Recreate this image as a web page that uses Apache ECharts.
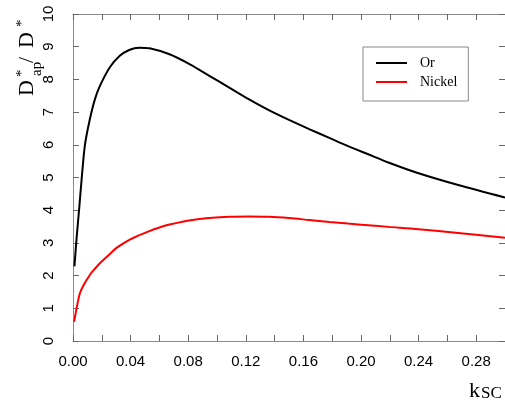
<!DOCTYPE html>
<html>
<head>
<meta charset="utf-8">
<script src="https://cdn.jsdelivr.net/npm/echarts@6/dist/echarts.min.js"></script>
<style>
html,body{margin:0;padding:0;background:#fff;}
#chart{width:505px;height:401px;}
</style>
</head>
<body>
<div id="chart"></div>
<script>
// ---- data ----
const xOr = [0.001,0.0026,0.0042,0.006,0.0083,0.0117,0.0152,0.0187,0.0256,0.0325,0.039,0.046,0.0532,0.067,0.0809,0.0947,0.1085,0.1223,0.136,0.15,0.164,0.178,0.191,0.205,0.219,0.24,0.2675,0.30];
const yOr = [2.28,3.2,4.0,4.95,6.0,6.78,7.39,7.8,8.37,8.72,8.9,8.97,8.95,8.77,8.47,8.11,7.75,7.39,7.06,6.76,6.48,6.21,5.96,5.71,5.46,5.13,4.77,4.39];
const xNi = [0.0008,0.0025,0.0048,0.0075,0.0117,0.014,0.0187,0.0256,0.030,0.037,0.0417,0.053,0.060,0.067,0.076,0.083,0.0947,0.1085,0.122,0.136,0.15,0.164,0.178,0.191,0.205,0.219,0.24,0.2675,0.30];
const yNi = [0.59,1.0,1.46,1.72,2.02,2.15,2.38,2.66,2.84,3.04,3.15,3.36,3.47,3.56,3.65,3.70,3.76,3.80,3.81,3.80,3.76,3.70,3.64,3.59,3.54,3.49,3.42,3.30,3.16];
const seriesNames = ['Or','Nickel'];
const xTickStep = 0.02;

const pairs = (xs, ys) => xs.map((x, i) => [x, ys[i]]);

const chart = echarts.init(document.getElementById('chart'), null, {renderer:'canvas'});
const axisLineStyle = {color:'#8a8a8a', width:1};
const tickStyle = {color:'#666', width:1};
const sansFont = 'Liberation Sans';
const serifFont = 'Liberation Serif';

function axisBase(extra){
  return Object.assign({
    axisLine:{show:true, onZero:false, lineStyle:axisLineStyle},
    axisTick:{show:true, inside:true, length:6, lineStyle:tickStyle},
    splitLine:{show:false}
  }, extra);
}

chart.setOption({
  animation:false,
  backgroundColor:'#fff',
  grid:{left:73, top:14, right:-2, bottom:60, containLabel:false},
  legend:{
    data:seriesNames, orient:'vertical', left:363, top:47,
    borderColor:'#888', borderWidth:1, padding:[9,11,12,13],
    icon:'rect', itemWidth:31, itemHeight:2, itemGap:5,
    textStyle:{fontFamily:serifFont, fontSize:14, color:'#000', padding:[0,0,0,8]}
  },
  xAxis:[axisBase({
    type:'value', position:'bottom', min:0, max:0.30, interval:xTickStep,
    axisLabel:{margin:13, fontFamily:sansFont, fontSize:15, color:'#000',
      showMaxLabel:false,
      formatter:function(v){ const k=Math.round(v/xTickStep); return k%2===0 ? v.toFixed(2) : ''; }}
  }), axisBase({
    type:'value', position:'top', min:0, max:0.30, interval:xTickStep,
    axisLabel:{show:false}
  })],
  yAxis:[axisBase({
    type:'value', position:'left', min:0, max:10, interval:1,
    axisLabel:{rotate:90, margin:17, fontFamily:sansFont, fontSize:15, color:'#000'}
  }), axisBase({
    type:'value', position:'right', min:0, max:10, interval:1,
    axisLabel:{show:false}
  })],
  series:[{
    name:seriesNames[0], type:'line', data:pairs(xOr, yOr), smooth:0.3,
    showSymbol:false, symbol:'none', lineStyle:{color:'#000', width:2}, itemStyle:{color:'#000'}, z:3
  },{
    name:seriesNames[1], type:'line', data:pairs(xNi, yNi), smooth:0.3,
    showSymbol:false, symbol:'none', lineStyle:{color:'#ff0000', width:2}, itemStyle:{color:'#ff0000'}, z:2
  }],
  graphic:[
    // y axis title  D*ap /D*  (rotated, reads bottom to top)
    {type:'text', x:27.7, y:96, rotation:Math.PI/2, style:{text:'D', font:'22px "Liberation Serif"', fill:'#000', textAlign:'left', textVerticalAlign:'middle'}},
    {type:'text', x:22, y:77, rotation:Math.PI/2, style:{text:'*', font:'15px "Liberation Serif"', fill:'#000', textAlign:'left', textVerticalAlign:'middle'}},
    {type:'text', x:36.7, y:76, rotation:Math.PI/2, style:{text:'ap', font:'15px "Liberation Serif"', fill:'#000', textAlign:'left', textVerticalAlign:'middle'}},
    {type:'text', x:27.7, y:63, rotation:Math.PI/2, style:{text:'/', font:'22px "Liberation Serif"', fill:'#000', textAlign:'left', textVerticalAlign:'middle'}},
    {type:'text', x:27.7, y:48, rotation:Math.PI/2, style:{text:'D', font:'22px "Liberation Serif"', fill:'#000', textAlign:'left', textVerticalAlign:'middle'}},
    {type:'text', x:22, y:27, rotation:Math.PI/2, style:{text:'*', font:'15px "Liberation Serif"', fill:'#000', textAlign:'left', textVerticalAlign:'middle'}},
    // x axis title k_SC
    {type:'text', x:469, y:391, style:{text:'k', font:'22px "Liberation Serif"', fill:'#000', textAlign:'left', textVerticalAlign:'middle'}},
    {type:'text', x:481, y:394, style:{text:'SC', font:'17px "Liberation Serif"', fill:'#000', textAlign:'left', textVerticalAlign:'middle'}}
  ]
});
</script>
</body>
</html>
